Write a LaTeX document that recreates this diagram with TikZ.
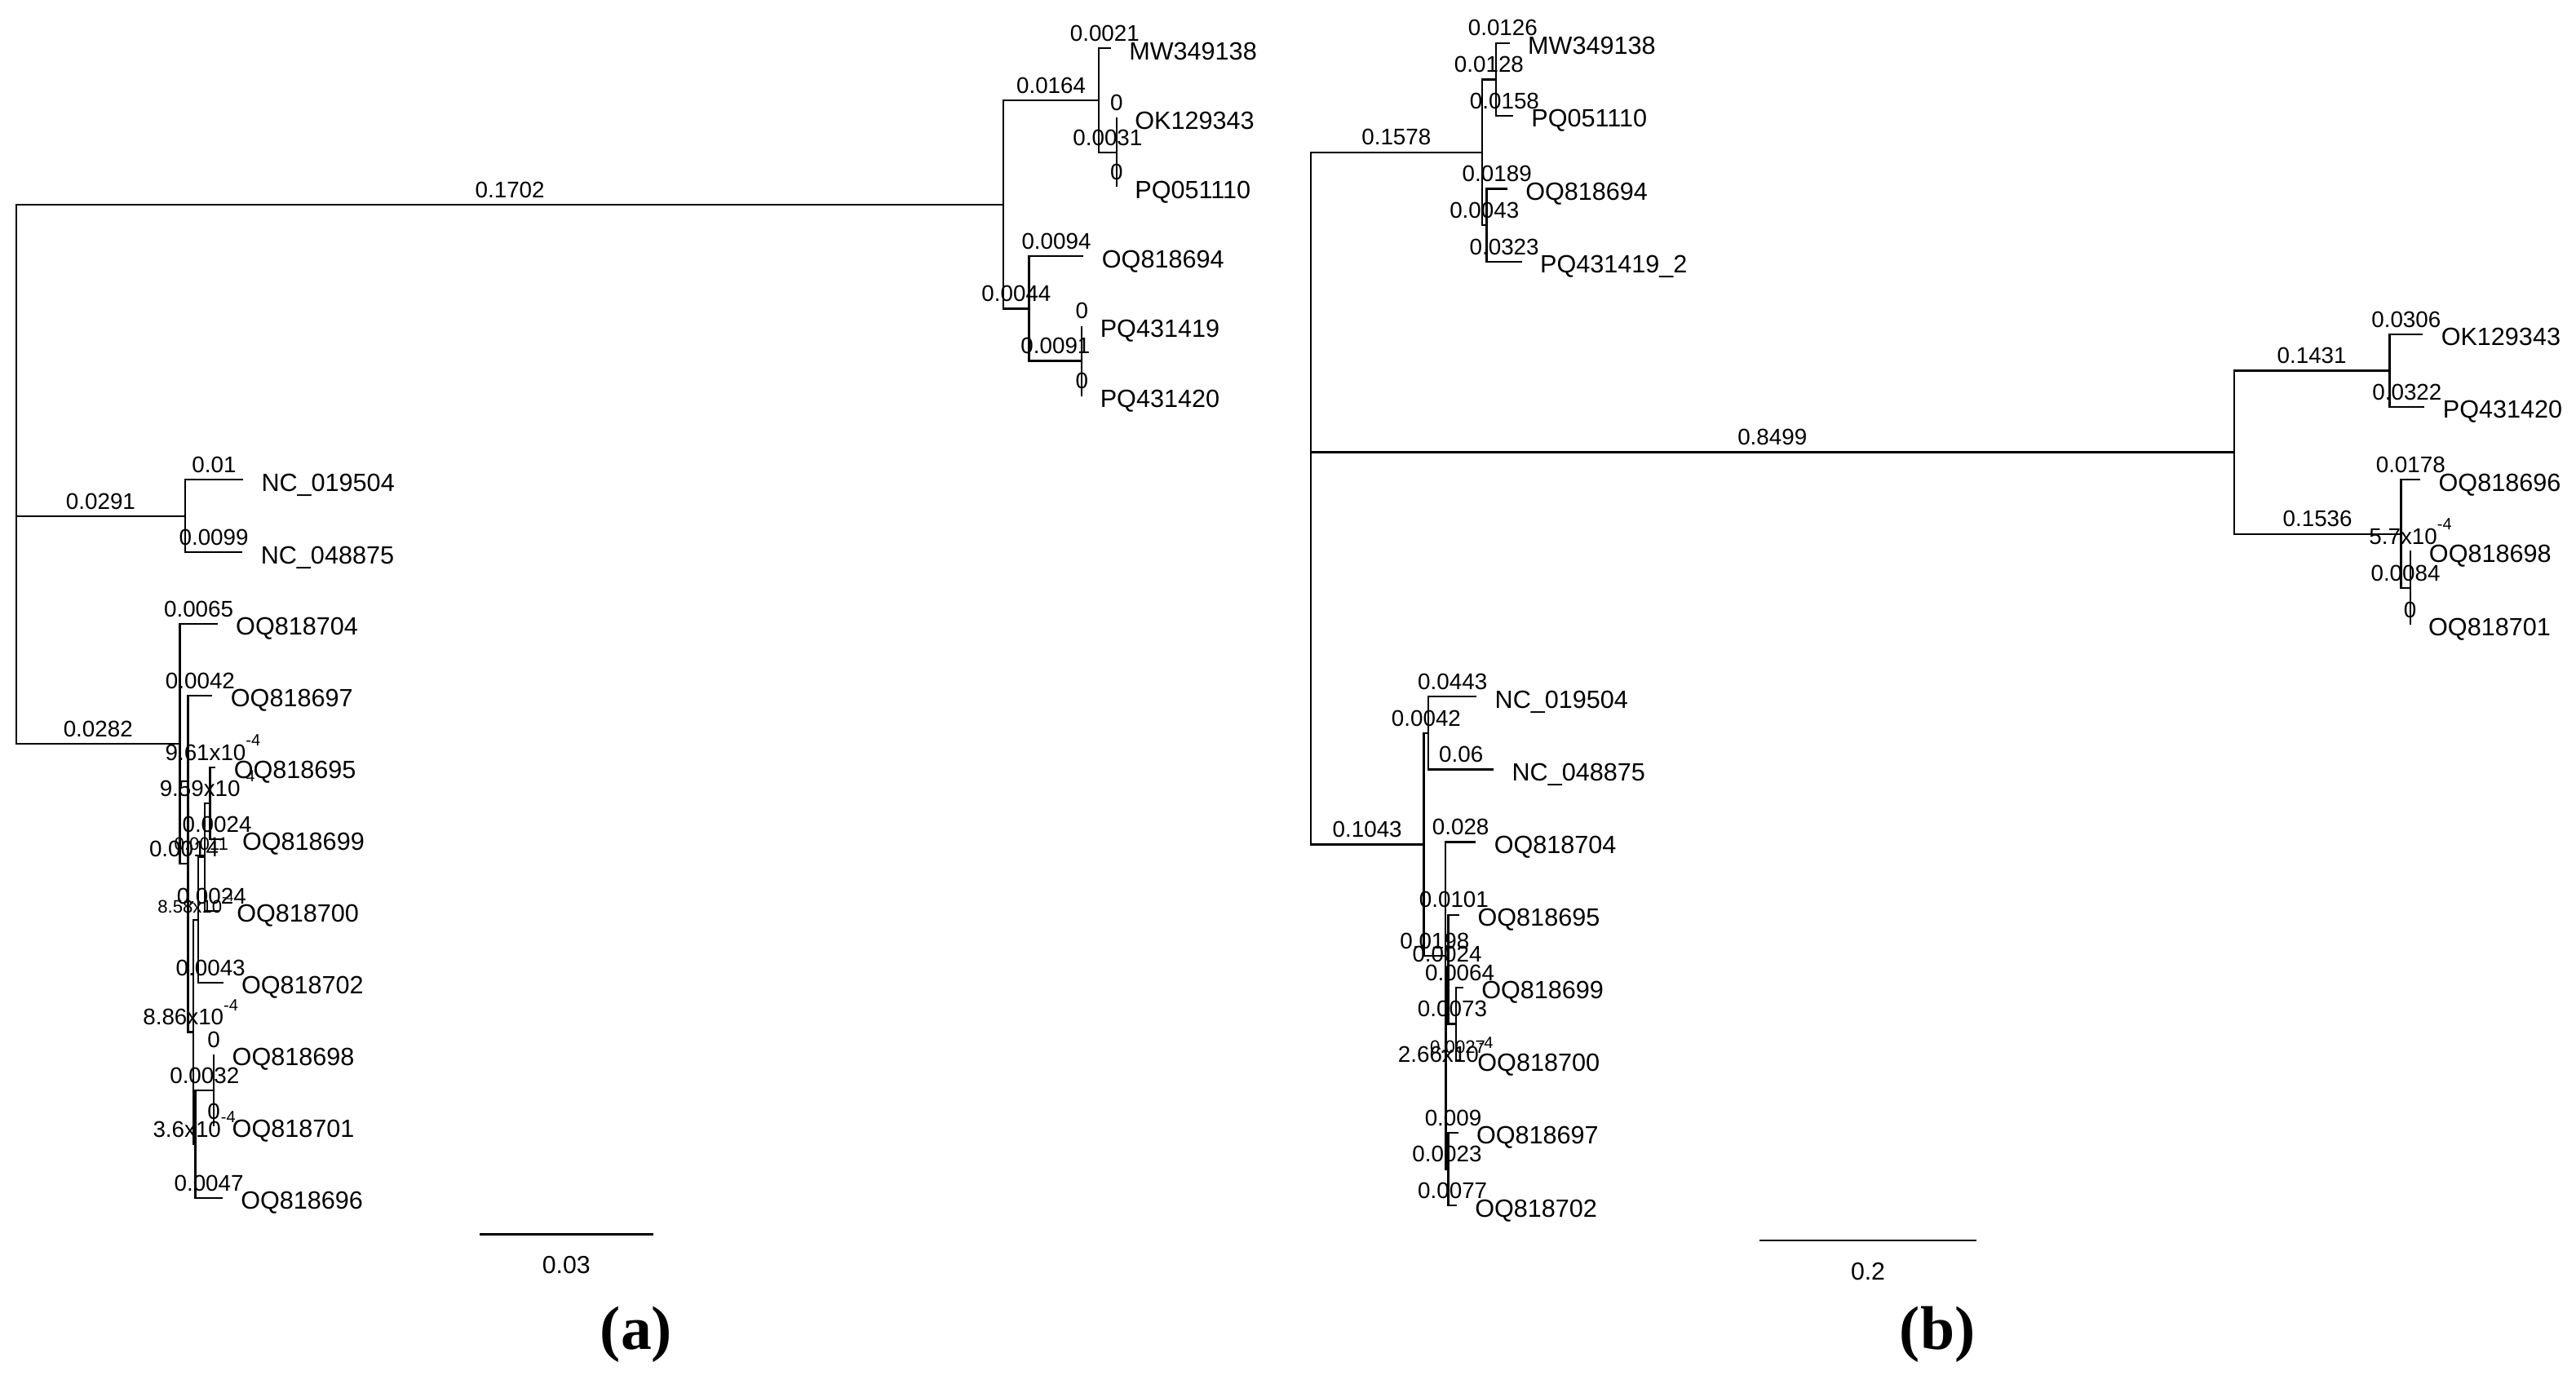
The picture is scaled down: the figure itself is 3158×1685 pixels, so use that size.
\documentclass[tikz,border=0pt]{standalone}
\usepackage{fontspec}
\usepackage{graphicx}
\setmainfont{Liberation Sans}
\newfontfamily\panelfont{Liberation Serif}

\newcommand{\tenpow}[2]{#1x10\raisebox{0.62em}{\scalebox{0.72}{-#2}}}

\tikzset{
    branch/.style={line width=0.65pt},
    blen/.style={inner sep=0pt, above=2.1pt, font=\fontsize{7.9}{8}\selectfont},
    bsmall/.style={inner sep=0pt, above=2.1pt, font=\fontsize{6.3}{7}\selectfont},
    leaf/.style={anchor=base west, inner sep=0pt, xshift=6.2pt, yshift=-3.9pt, font=\fontsize{8.7}{10}\selectfont},
    scalebar/.style={line width=0.8pt},
    bartext/.style={inner sep=0pt, below=7.3pt, font=\fontsize{8.6}{10}\selectfont},
    panel/.style={inner sep=0pt, font=\panelfont\bfseries\fontsize{21.5}{24}\selectfont}
}

\begin{document}
\begin{tikzpicture}[x=0.01cm, y=-0.01cm]
    \path[fill=white, use as bounding box] (0,0) rectangle (3158,1685);

    % tree (a)
    \foreach \n/\x/\y in {aRoot/20/633, aTop/1230.3/250.8, aTopA/1346.9/123.1, aTopB/1368.9/186.9,
        aTopC/1261.6/378.4, aTopD/1326.3/442.5, aNC/226.9/632.8, aA/220.5/912.1, aB/230.5/1059.3,
        aX/236.8/1265.5, aW/242.9/1128, aV/250.7/1051, aD/257.5/985, aY/239.4/1403, aZ/262.2/1337}
        \coordinate (\n) at (\x,\y);
    \foreach \n/\x/\y/\t in {aMW/1361.8/59.3/MW349138, aOK/1368.9/144.5/OK129343, aPQ1/1368.9/229.3/PQ051110,
        aOQ94/1328.4/314.3/OQ818694, aPQ19/1326.3/399.5/PQ431419, aPQ20/1326.3/485.5/PQ431420,
        aNC1/298/588.3/NC\_019504, aNC2/297.3/677.3/NC\_048875,
        a04/266.7/765/OQ818704, a97/260.4/853/OQ818697, a95/264.3/941/OQ818695, a99/274.6/1029/OQ818699,
        a00/267.8/1117/OQ818700, a02/273.5/1205/OQ818702, a98/262.2/1293/OQ818698, a01/262.2/1381/OQ818701,
        a96/272.8/1469/OQ818696}
    {
        \coordinate (\n) at (\x,\y);
        \node[leaf] (\n-txt) at (\n) {\t};
    }
    \foreach \p/\c/\l in {aRoot/aTop/0.1702, aRoot/aNC/0.0291, aRoot/aA/0.0282,
        aTop/aTopA/0.0164, aTop/aTopC/0.0044, aTopA/aMW/0.0021, aTopA/aTopB/0.0031,
        aTopB/aOK/0, aTopB/aPQ1/0, aTopC/aOQ94/0.0094, aTopC/aTopD/0.0091, aTopD/aPQ19/0, aTopD/aPQ20/0,
        aNC/aNC1/0.01, aNC/aNC2/0.0099, aA/a04/0.0065, aA/aB/0.0014, aB/a97/0.0042,
        aB/aX/\tenpow{8.86}{4}, aX/aY/\tenpow{3.6}{4}, aW/a02/0.0043, aV/aD/\tenpow{9.59}{4},
        aV/a00/0.0024, aD/a95/\tenpow{9.61}{4}, aD/a99/0.0024, aY/aZ/0.0032, aY/a96/0.0047,
        aZ/a98/0, aZ/a01/0}
        \draw[branch] (\p) |- (\c) node[pos=0.75, blen] {\l};
    \draw[branch] (aX) |- (aW) node[pos=0.75, bsmall] {\tenpow{8.58}{4}};
    \draw[branch] (aW) |- (aV) node[pos=0.75, bsmall] {0.0011};

    \coordinate (aBarL) at (587.7,1513.3);
    \coordinate (aBarR) at (801,1513.3);
    \draw[scalebar] (aBarL) -- (aBarR) node[midway, bartext] (aBarTxt) {0.03};
    \node[panel] (aPanel) at (780,1636) {(a)};

    % tree (b)
    \foreach \n/\x/\y in {bRoot/1606.7/554.6, bTop/1816.9/186.8, bTopA/1833.9/97.4, bTopB/1822.6/276.2,
        bK/2738.8/554.6, bK1/2929.4/454.5, bK2/2943.4/654.7, bK3/2954.6/721,
        bP/1745.6/1035.4, bQ/1751.2/898.9, bR/1772/1171.9, bN2/1772.4/1311.2,
        bN1/1775.6/1188.6, bU/1785.3/1255.5, bT/1775.5/1433.7}
        \coordinate (\n) at (\x,\y);
    \foreach \n/\x/\y/\t in {bMW/1850.7/52.7/MW349138, bPQ1/1854.9/142.1/PQ051110,
        bOQ94/1847.8/231.5/OQ818694, bPQ19/1865.6/320.9/PQ431419\_2,
        bOK/2970.2/410/OK129343, bPQ20/2972.3/499/PQ431420, b96/2967.1/588.3/OQ818696,
        b98/2955.4/676/OQ818698, b01/2954.6/766/OQ818701,
        bNC1/1810.2/854.3/NC\_019504, bNC2/1831.1/943.4/NC\_048875, b04/1809.3/1032.6/OQ818704,
        b95/1789.1/1121.7/OQ818695, b99/1793.8/1210.9/OQ818699, b00/1788.9/1300/OQ818700,
        b97/1787.5/1389.1/OQ818697, b02/1785.8/1478.3/OQ818702}
    {
        \coordinate (\n) at (\x,\y);
        \node[leaf] (\n-txt) at (\n) {\t};
    }
    \foreach \p/\c/\l in {bRoot/bTop/0.1578, bRoot/bK/0.8499, bRoot/bP/0.1043,
        bTop/bTopA/0.0128, bTop/bTopB/0.0043, bTopA/bMW/0.0126, bTopA/bPQ1/0.0158,
        bTopB/bOQ94/0.0189, bTopB/bPQ19/0.0323,
        bK/bK1/0.1431, bK/bK2/0.1536, bK1/bOK/0.0306, bK1/bPQ20/0.0322,
        bK2/b96/0.0178, bK2/bK3/0.0084, bK3/b98/\tenpow{5.7}{4}, bK3/b01/0,
        bP/bQ/0.0042, bP/bR/0.0198, bQ/bNC1/0.0443, bQ/bNC2/0.06, bR/b04/0.028,
        bR/bN2/\tenpow{2.66}{4}, bN2/bN1/0.0024, bN2/bT/0.0023, bN1/b95/0.0101, bN1/bU/0.0073,
        bU/b99/0.0064, bT/b97/0.009, bT/b02/0.0077}
        \draw[branch] (\p) |- (\c) node[pos=0.75, blen] {\l};
    \draw[branch] (bU) |- (b00) node[pos=0.75, bsmall] {0.0027};

    \coordinate (bBarL) at (2157.3,1521);
    \coordinate (bBarR) at (2422.7,1521);
    \draw[scalebar] (bBarL) -- (bBarR) node[midway, bartext] (bBarTxt) {0.2};
    \node[panel] (bPanel) at (2375,1636) {(b)};
\end{tikzpicture}
\end{document}
